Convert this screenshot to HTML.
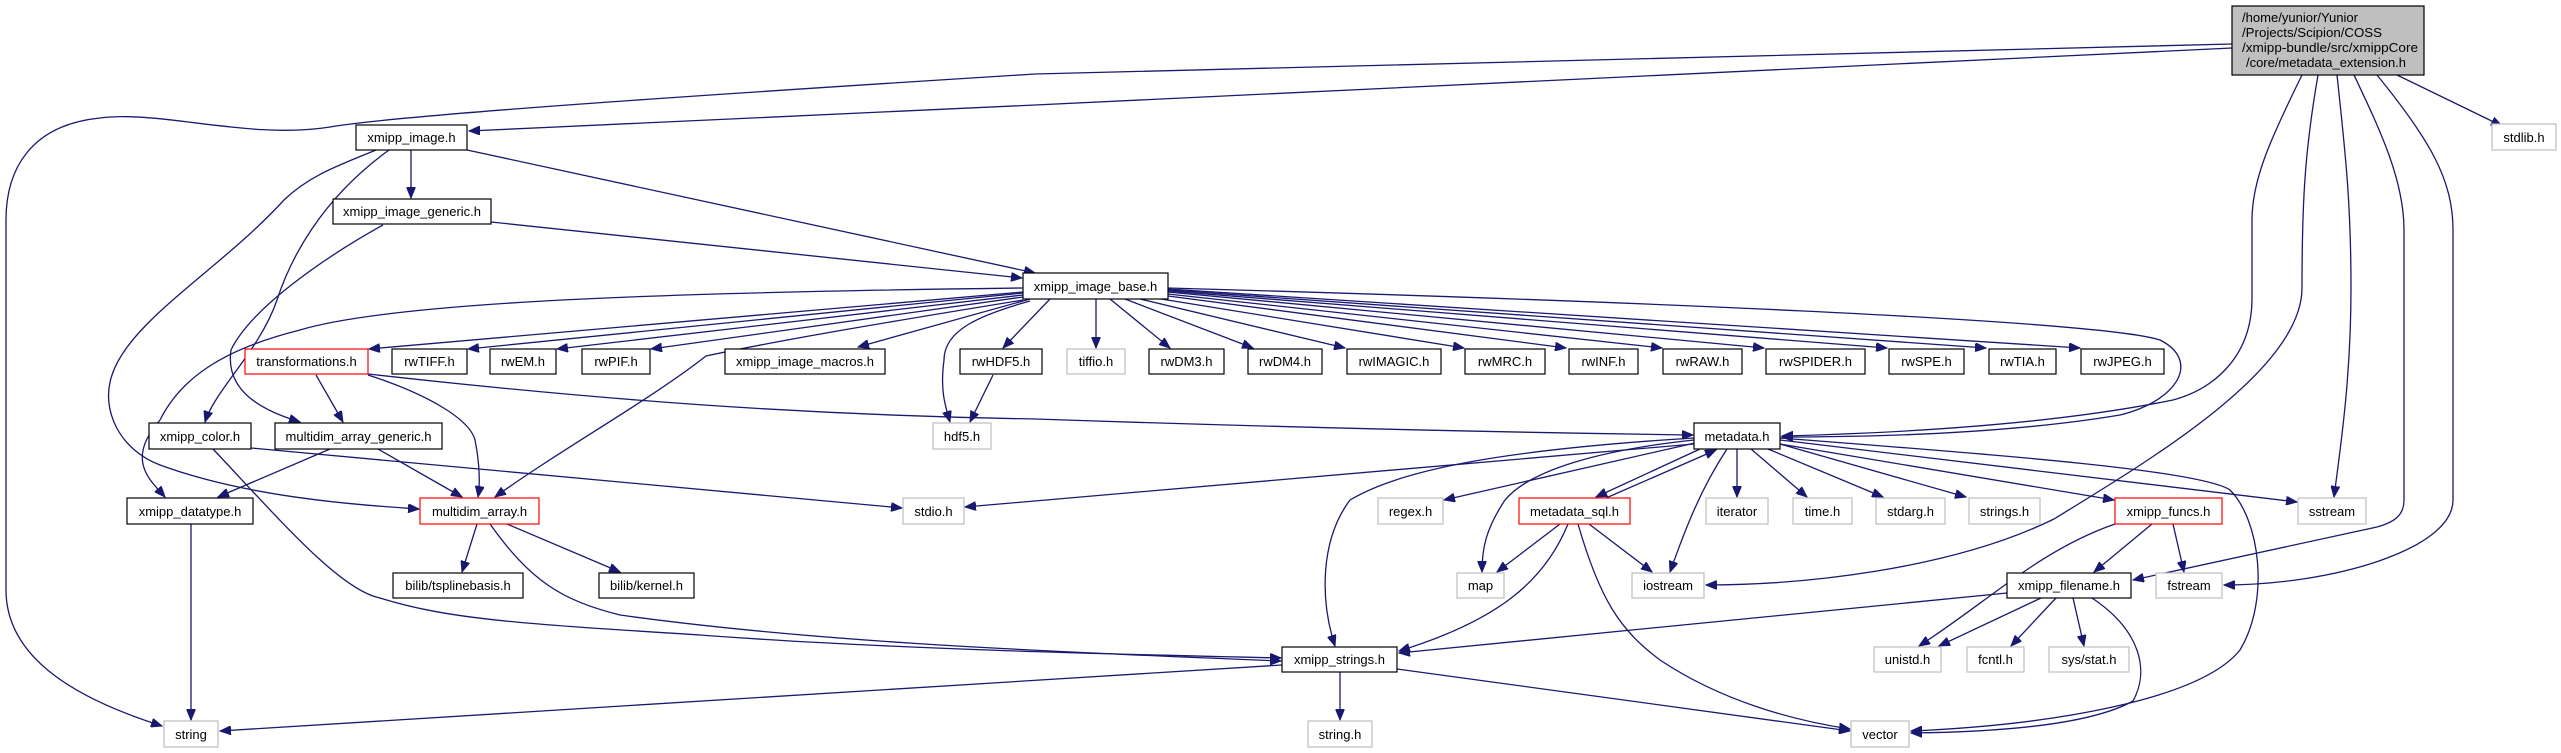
<!DOCTYPE html>
<html><head><meta charset="utf-8"><style>
html,body{margin:0;padding:0;background:#fff;}
svg{display:block;}
text{font-family:"Liberation Sans",sans-serif;font-size:13px;fill:#000;}
.e{fill:none;stroke:#191970;stroke-width:1.3;marker-end:url(#a);}
.b{fill:#fff;stroke:#000;stroke-width:1.2;}
.g{fill:#fff;stroke:#bfbfbf;stroke-width:1.2;}
.r{fill:#fff;stroke:#ff0000;stroke-width:1.2;}
</style></head><body>
<svg width="2561" height="753" viewBox="0 0 2561 753" xmlns="http://www.w3.org/2000/svg">
<defs><marker id="a" markerUnits="userSpaceOnUse" markerWidth="12" markerHeight="9" refX="11" refY="4.5" orient="auto"><path d="M0,0 L11,4.5 L0,9 z" fill="#191970" stroke="#191970"/></marker></defs>
<g>
<!-- main edges -->
<path class="e" d="M2232,44 L1035,74 C700,95 400,115 330,127 C250,140 160,110 100,118 C30,125 6,170 6,220 L6,590 C6,660 80,700 162,726"/>
<path class="e" d="M2232,48 L1035,105 L469,131"/>
<path class="e" d="M2302,75 C2270,140 2252,180 2252,220 L2252,298 C2252,360 2210,390 2173,400 C2050,425 1900,433 1782,436"/>
<path class="e" d="M2318,75 C2305,150 2302,200 2302,288 C2302,370 2150,460 2054,519 C1950,570 1800,585 1706,585"/>
<path class="e" d="M2337,75 C2345,150 2351,200 2351,288 C2351,380 2340,450 2334,497"/>
<path class="e" d="M2354,75 C2380,130 2404,180 2404,230 L2404,500 C2404,515 2395,522 2377,527 L2133,580"/>
<path class="e" d="M2377,75 C2430,140 2453,180 2453,230 L2453,500 C2453,550 2330,585 2224,585"/>
<path class="e" d="M2397,75 L2502,126"/>
<!-- xmipp_image.h -->
<path class="e" d="M411,150 L411,198"/>
<path class="e" d="M467,150 L1035,273"/>
<path class="e" d="M389,150 C320,200 290,260 277,300 C260,350 215,390 205,422"/>
<path class="e" d="M376,150 C340,165 310,175 284,200 C220,270 130,320 112,375 C100,410 120,450 160,465 C250,498 360,505 419,509"/>
<!-- xmipp_image_generic -->
<path class="e" d="M491,222 L1022,278"/>
<path class="e" d="M383,225 C320,260 250,310 231,350 C225,390 260,410 300,422"/>
<!-- xmipp_image_base fan -->
<path class="e" d="M1023,288 C700,292 400,300 300,330 C220,350 180,380 160,420 C125,460 150,480 165,497"/>
<path class="e" d="M1023,292 L369,349"/>
<path class="e" d="M1023,293 L468,349"/>
<path class="e" d="M1023,295 L557,349"/>
<path class="e" d="M1023,297 L651,349"/>
<path class="e" d="M1030,299 L858,347"/>
<path class="e" d="M1023,300 C900,320 780,340 706,356 C650,400 560,450 495,497"/>
<path class="e" d="M1030,301 C980,315 944,330 944,360 C940,390 945,405 950,422"/>
<path class="e" d="M1050,299 L1003,348"/>
<path class="e" d="M1096,299 L1096,348"/>
<path class="e" d="M1110,299 L1170,348"/>
<path class="e" d="M1125,299 L1253,348"/>
<path class="e" d="M1140,299 L1345,348"/>
<path class="e" d="M1155,298 L1464,348"/>
<path class="e" d="M1168,296 L1566,348"/>
<path class="e" d="M1168,294 L1662,348"/>
<path class="e" d="M1168,292 L1764,348"/>
<path class="e" d="M1168,291 L1887,348"/>
<path class="e" d="M1168,290 L1986,348"/>
<path class="e" d="M1168,289 L2080,348"/>
<path class="e" d="M1168,288 C1600,300 2100,320 2160,340 C2200,360 2180,400 2120,415 C2000,435 1860,437 1782,437"/>
<!-- transformations -->
<path class="e" d="M316,375 L343,422"/>
<path class="e" d="M368,375 C430,395 470,420 475,440 C480,465 480,485 478,497"/>
<path class="e" d="M368,374 C600,400 800,415 1035,419 C1300,428 1550,433 1693,435"/>
<path class="e" d="M993,375 L970,422"/>
<!-- color -->
<path class="e" d="M251,448 L902,508"/>
<path class="e" d="M213,449 C280,520 340,590 380,598 C450,620 528,624 700,635 C900,650 1150,655 1281,658"/>
<!-- multidim_array_generic -->
<path class="e" d="M330,449 L218,497"/>
<path class="e" d="M378,449 L462,497"/>
<!-- multidim_array -->
<path class="e" d="M477,524 L462,572"/>
<path class="e" d="M507,524 L620,572"/>
<path class="e" d="M490,524 C530,580 560,600 620,615 C800,640 1000,650 1281,661"/>
<path class="e" d="M191,524 L191,720"/>
<!-- xmipp_strings -->
<path class="e" d="M1282,665 L220,731"/>
<path class="e" d="M1340,672 L1340,720"/>
<path class="e" d="M1397,669 L1850,731"/>
<!-- metadata -->
<path class="e" d="M1694,444 L965,507"/>
<path class="e" d="M1694,438 C1500,450 1400,470 1350,500 C1320,540 1320,600 1335,646"/>
<path class="e" d="M1695,443 L1444,500"/>
<path class="e" d="M1694,440 C1600,450 1530,470 1505,500 C1485,530 1482,550 1482,572"/>
<path class="e" d="M1700,449 L1596,497"/>
<path class="e" d="M1606,498 L1716,450"/>
<path class="e" d="M1727,449 C1700,490 1685,530 1670,572"/>
<path class="e" d="M1737,449 L1737,497"/>
<path class="e" d="M1751,449 L1807,497"/>
<path class="e" d="M1768,449 L1883,497"/>
<path class="e" d="M1780,444 L1966,497"/>
<path class="e" d="M1780,444 L2114,500"/>
<path class="e" d="M1780,440 L2297,502"/>
<path class="e" d="M1780,438 C2000,455 2200,470 2230,490 C2260,520 2270,600 2240,650 C2200,700 2050,725 1911,731"/>
<!-- metadata_sql -->
<path class="e" d="M1560,524 L1497,572"/>
<path class="e" d="M1589,524 L1652,572"/>
<path class="e" d="M1568,524 C1545,580 1500,620 1399,651"/>
<path class="e" d="M1578,524 C1600,600 1620,630 1660,660 C1720,700 1790,720 1850,729"/>
<!-- xmipp_funcs -->
<path class="e" d="M2152,524 L2094,572"/>
<path class="e" d="M2173,524 L2184,572"/>
<path class="e" d="M2115,524 C2040,550 1990,600 1919,646"/>
<!-- xmipp_filename -->
<path class="e" d="M2007,593 L1399,653"/>
<path class="e" d="M2041,598 L1939,646"/>
<path class="e" d="M2056,598 L2011,646"/>
<path class="e" d="M2073,598 L2084,646"/>
<path class="e" d="M2092,598 C2140,630 2150,670 2133,701 C2090,725 2000,732 1911,733"/>
</g>
<g>
<rect x="2232" y="6" width="192" height="69" fill="#bfbfbf" stroke="#000" stroke-width="1.2"/>
<text x="2242" y="22" textLength="116" lengthAdjust="spacingAndGlyphs">/home/yunior/Yunior</text>
<text x="2242" y="37" textLength="140" lengthAdjust="spacingAndGlyphs">/Projects/Scipion/COSS</text>
<text x="2242" y="52" textLength="176" lengthAdjust="spacingAndGlyphs">/xmipp-bundle/src/xmippCore</text>
<text x="2246" y="67" textLength="160" lengthAdjust="spacingAndGlyphs">/core/metadata_extension.h</text>
</g>
<g text-anchor="middle">
<rect class="g" x="2492" y="124" width="64" height="26"/><text x="2524" y="142">stdlib.h</text>
<rect class="b" x="356" y="125" width="111" height="25"/><text x="411.5" y="142">xmipp_image.h</text>
<rect class="b" x="333" y="199" width="158" height="25"/><text x="412" y="216">xmipp_image_generic.h</text>
<rect class="b" x="1023" y="273" width="145" height="26"/><text x="1095.5" y="291">xmipp_image_base.h</text>

<rect class="r" x="245" y="349" width="123" height="25"/><text x="306.5" y="366">transformations.h</text>
<rect class="b" x="392" y="349" width="75" height="25"/><text x="429.5" y="366">rwTIFF.h</text>
<rect class="b" x="490" y="349" width="66" height="25"/><text x="523" y="366">rwEM.h</text>
<rect class="b" x="582" y="349" width="68" height="25"/><text x="616" y="366">rwPIF.h</text>
<rect class="b" x="725" y="349" width="160" height="25"/><text x="805" y="366">xmipp_image_macros.h</text>
<rect class="b" x="960" y="349" width="82" height="25"/><text x="1001" y="366">rwHDF5.h</text>
<rect class="g" x="1067" y="349" width="58" height="25"/><text x="1096" y="366">tiffio.h</text>
<rect class="b" x="1149" y="349" width="75" height="25"/><text x="1186.5" y="366">rwDM3.h</text>
<rect class="b" x="1248" y="349" width="74" height="25"/><text x="1285" y="366">rwDM4.h</text>
<rect class="b" x="1347" y="349" width="94" height="25"/><text x="1394" y="366">rwIMAGIC.h</text>
<rect class="b" x="1465" y="349" width="80" height="25"/><text x="1505" y="366">rwMRC.h</text>
<rect class="b" x="1569" y="349" width="69" height="25"/><text x="1603.5" y="366">rwINF.h</text>
<rect class="b" x="1663" y="349" width="79" height="25"/><text x="1702.5" y="366">rwRAW.h</text>
<rect class="b" x="1766" y="349" width="99" height="25"/><text x="1815.5" y="366">rwSPIDER.h</text>
<rect class="b" x="1889" y="349" width="75" height="25"/><text x="1926.5" y="366">rwSPE.h</text>
<rect class="b" x="1989" y="349" width="67" height="25"/><text x="2022.5" y="366">rwTIA.h</text>
<rect class="b" x="2081" y="349" width="83" height="25"/><text x="2122.5" y="366">rwJPEG.h</text>

<rect class="b" x="149" y="423" width="102" height="26"/><text x="200" y="441">xmipp_color.h</text>
<rect class="b" x="275" y="423" width="167" height="26"/><text x="358.5" y="441">multidim_array_generic.h</text>
<rect class="g" x="933" y="423" width="58" height="26"/><text x="962" y="441">hdf5.h</text>
<rect class="b" x="1694" y="423" width="86" height="26"/><text x="1737" y="441">metadata.h</text>

<rect class="b" x="127" y="498" width="126" height="26"/><text x="190" y="516">xmipp_datatype.h</text>
<rect class="r" x="420" y="498" width="119" height="26"/><text x="479.5" y="516">multidim_array.h</text>
<rect class="g" x="903" y="498" width="61" height="26"/><text x="933.5" y="516">stdio.h</text>
<rect class="g" x="1378" y="498" width="65" height="26"/><text x="1410.5" y="516">regex.h</text>
<rect class="r" x="1519" y="498" width="111" height="26"/><text x="1574.5" y="516">metadata_sql.h</text>
<rect class="g" x="1706" y="498" width="62" height="26"/><text x="1737" y="516">iterator</text>
<rect class="g" x="1793" y="498" width="59" height="26"/><text x="1822.5" y="516">time.h</text>
<rect class="g" x="1876" y="498" width="69" height="26"/><text x="1910.5" y="516">stdarg.h</text>
<rect class="g" x="1969" y="498" width="71" height="26"/><text x="2004.5" y="516">strings.h</text>
<rect class="r" x="2115" y="498" width="107" height="26"/><text x="2168.5" y="516">xmipp_funcs.h</text>
<rect class="g" x="2298" y="498" width="68" height="26"/><text x="2332" y="516">sstream</text>

<rect class="b" x="393" y="573" width="130" height="25"/><text x="458" y="590">bilib/tsplinebasis.h</text>
<rect class="b" x="599" y="573" width="95" height="25"/><text x="646.5" y="590">bilib/kernel.h</text>
<rect class="g" x="1457" y="573" width="47" height="25"/><text x="1480.5" y="590">map</text>
<rect class="g" x="1632" y="573" width="72" height="25"/><text x="1668" y="590">iostream</text>
<rect class="b" x="2007" y="573" width="124" height="25"/><text x="2069" y="590">xmipp_filename.h</text>
<rect class="g" x="2156" y="573" width="66" height="25"/><text x="2189" y="590">fstream</text>

<rect class="b" x="1282" y="647" width="115" height="25"/><text x="1339.5" y="664">xmipp_strings.h</text>
<rect class="g" x="1874" y="647" width="67" height="25"/><text x="1907.5" y="664">unistd.h</text>
<rect class="g" x="1967" y="647" width="57" height="25"/><text x="1995.5" y="664">fcntl.h</text>
<rect class="g" x="2049" y="647" width="80" height="25"/><text x="2089" y="664">sys/stat.h</text>

<rect class="g" x="164" y="721" width="54" height="26"/><text x="191" y="739">string</text>
<rect class="g" x="1308" y="721" width="64" height="26"/><text x="1340" y="739">string.h</text>
<rect class="g" x="1851" y="721" width="58" height="26"/><text x="1880" y="739">vector</text>
</g>
</svg>
</body></html>
